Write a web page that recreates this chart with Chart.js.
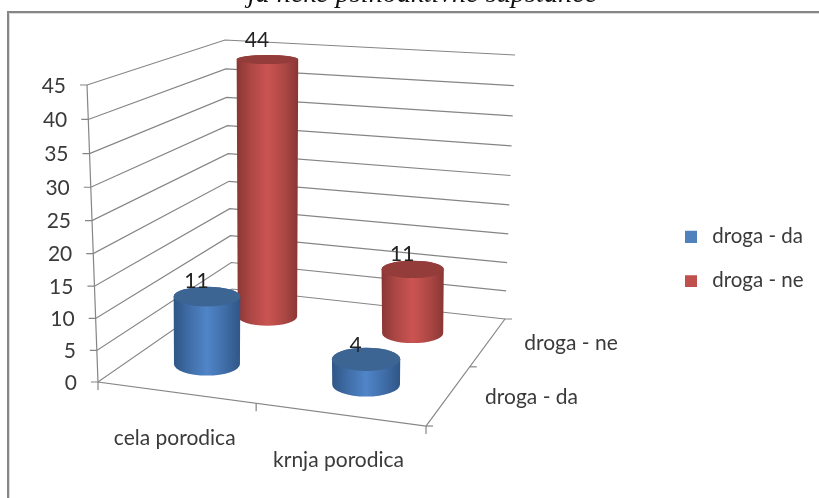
<!DOCTYPE html>
<html><head><meta charset="utf-8">
<style>html,body{margin:0;padding:0;background:#fff}canvas{display:block}</style>
<script src="https://cdn.jsdelivr.net/npm/chart.js@4"></script>
</head><body><canvas id="c" width="819" height="498"></canvas>
<script>
const categories = ['cela porodica', 'krnja porodica'];
const seriesNames = ['droga - da', 'droga - ne'];
const drogaDa = [11, 4];
const drogaNe = [44, 11];
const yTicks = [0, 5, 10, 15, 20, 25, 30, 35, 40, 45];
const titleText = 'ja neke psihoaktivne supstance';

const FONT = 'Lato, sans-serif';
const AXIS_FONT = '21px ' + FONT;
const TEXT = '#3a3a3a', GRID = '#858585';
const RADIUS = 0.1, PERSP = 0.05, BAR_SHIFT = -2.5, BAR_SPREAD = 1.02;
// 3D box outline (layout of the plot frame on the page)
const floorQuad = [[98,382],[426,426],[505,319],[232,289]];
const topQuad = [[87,85],[439,110],[515,55],[225,40]];

function homography(q){
  const [[x0,y0],[x1,y1],[x2,y2],[x3,y3]] = q;
  const dx1=x1-x2, dx2=x3-x2, sx=x0-x1+x2-x3, dy1=y1-y2, dy2=y3-y2, sy=y0-y1+y2-y3;
  const det=dx1*dy2-dx2*dy1, g=(sx*dy2-dx2*sy)/det, h=(dx1*sy-sx*dy1)/det;
  const a=x1-x0+g*x1, b=x3-x0+h*x3, d=y1-y0+g*y1, e=y3-y0+h*y3;
  return (u,w)=>{const n=g*u+h*w+1;return [(a*u+b*w+x0)/n,(d*u+e*w+y0)/n];};
}
const floorH = homography(floorQuad), topH = homography(topQuad);
// u: along categories, w: along series, v: fraction of the value axis
function project(u,w,v){
  const vv = v/(1+PERSP*(1-v));
  const f=floorH(u,w), t=topH(u,w);
  return [f[0]+(t[0]-f[0])*vv, f[1]+(t[1]-f[1])*vv];
}
function valueFrac(chart,val){
  const s=chart.scales.y;
  return (s.bottom-s.getPixelForValue(val))/(s.bottom-s.top);
}
function catU(chart,i){
  const s=chart.scales.x;
  return (s.getPixelForValue(i)-s.left)/(s.right-s.left);
}
function barU(chart,i){return 0.5+(catU(chart,i)-0.5)*BAR_SPREAD;}
function seriesW(i){return (i+0.5)/seriesNames.length;}
function ellipseAt(u,w,v){
  const c=project(u,w,v);
  let x0=1e9,x1=-1e9,y0=1e9,y1=-1e9;
  for(let a=0;a<48;a++){
    const p=project(u+RADIUS*Math.cos(a*Math.PI/24),w+RADIUS*Math.sin(a*Math.PI/24),v);
    x0=Math.min(x0,p[0]);x1=Math.max(x1,p[0]);y0=Math.min(y0,p[1]);y1=Math.max(y1,p[1]);
  }
  // cylinders stand upright: the axis stays over the base centre
  return {x:project(u,w,0)[0]+BAR_SHIFT,y:c[1],rx:(x1-x0)/2,ry:(y1-y0)/2};
}
const shades=[
  {edge:'#2f5685',mid:'#3f6ca6',light:'#5085c8',top:'#3d6594'},
  {edge:'#8a3634',mid:'#ab4744',light:'#cb5452',top:'#933c3a'}
];
class Cylinder3D extends Chart.BarController{
  draw(){
    const chart=this.chart, ctx=chart.ctx, di=this.index, col=shades[di], w=seriesW(di);
    const data=this.getDataset().data;
    data.forEach((val,i)=>{
      const u=barU(chart,i);
      const b=ellipseAt(u,w,0), t=ellipseAt(u,w,valueFrac(chart,this.getParsed(i).y));
      const left=Math.min(b.x-b.rx,t.x-t.rx), right=Math.max(b.x+b.rx,t.x+t.rx);
      const g=ctx.createLinearGradient(left,0,right,0);
      g.addColorStop(0,col.edge);g.addColorStop(0.22,col.mid);g.addColorStop(0.5,col.light);
      g.addColorStop(0.78,col.mid);g.addColorStop(1,col.edge);
      ctx.save();
      ctx.beginPath();
      ctx.ellipse(b.x,b.y,b.rx,b.ry,0,0,Math.PI,false);
      ctx.lineTo(t.x-t.rx,t.y);
      ctx.ellipse(t.x,t.y,t.rx,t.ry,0,Math.PI,2*Math.PI,false);
      ctx.closePath();
      ctx.fillStyle=g;ctx.fill();
      ctx.beginPath();
      ctx.ellipse(t.x,t.y,t.rx,t.ry,0,0,2*Math.PI);
      ctx.fillStyle=col.top;ctx.fill();
      ctx.restore();
    });
  }
}
Cylinder3D.id='cylinder3d';
Cylinder3D.defaults=Chart.BarController.defaults;
Cylinder3D.overrides=Chart.BarController.overrides;
Chart.register(Cylinder3D);

function legendSwatch(color){
  const c=document.createElement('canvas');c.width=18;c.height=13;
  const x=c.getContext('2d');x.fillStyle=color;x.fillRect(1,1,12,12);return c;
}
const swatches=[legendSwatch('#4f81bd'),legendSwatch('#c0504d')];

const frame3d={
  id:'frame3d',
  afterLayout(chart){
    const l=chart.legend; l.left=660; l.right=819; l.top+=25; l.bottom+=25;
  },
  beforeDatasetsDraw(chart){
    const ctx=chart.ctx;
    ctx.save();
    // page frame
    ctx.strokeStyle='#868686';ctx.lineWidth=2;
    ctx.beginPath();ctx.moveTo(8,498);ctx.lineTo(8,12);ctx.lineTo(819,12);ctx.stroke();
    ctx.strokeStyle='#dcdcdc';ctx.lineWidth=1;
    ctx.beginPath();ctx.moveTo(9.5,498);ctx.lineTo(9.5,13.5);ctx.lineTo(819,13.5);ctx.stroke();
    // title clipped by the page top
    ctx.fillStyle='#111';ctx.font='italic 28.3px "Liberation Serif", serif';
    ctx.textAlign='center';ctx.textBaseline='alphabetic';
    ctx.fillText(titleText,422.5,2);
    // grid
    ctx.strokeStyle=GRID;ctx.lineWidth=1.2;
    ctx.fillStyle=TEXT;ctx.font=AXIS_FONT;ctx.textAlign='right';ctx.textBaseline='middle';
    yTicks.forEach(t=>{
      const v=valueFrac(chart,t);
      const a=project(0,0,v), d=project(0,1,v), c=project(1,1,v);
      ctx.beginPath();ctx.moveTo(a[0]-7,a[1]);ctx.lineTo(a[0],a[1]);ctx.lineTo(d[0],d[1]);ctx.lineTo(c[0],c[1]);ctx.stroke();
      ctx.fillText(String(t),a[0]-21,a[1]+1);
    });
    // vertical axis, floor edges and ticks
    const A=project(0,0,0),T=project(0,0,1),B=project(1,0,0),C=project(1,1,0);
    ctx.beginPath();ctx.moveTo(T[0],T[1]);ctx.lineTo(A[0],A[1]);ctx.lineTo(B[0],B[1]);ctx.lineTo(C[0],C[1]);ctx.lineTo(C[0]+7,C[1]);ctx.stroke();
    for(let i=0;i<=categories.length;i++){
      const p=project(i/categories.length,0,0);
      ctx.beginPath();ctx.moveTo(p[0],p[1]);ctx.lineTo(p[0],p[1]+8);ctx.stroke();
    }
    const m=project(1,0.5,0);
    ctx.beginPath();ctx.moveTo(m[0],m[1]);ctx.lineTo(m[0]+7,m[1]);ctx.stroke();
    const bt=project(1,0,0);
    ctx.beginPath();ctx.moveTo(bt[0],bt[1]);ctx.lineTo(bt[0]+7,bt[1]);ctx.stroke();
    // axis labels
    ctx.fillStyle=TEXT;ctx.font=AXIS_FONT;ctx.textAlign='center';
    categories.forEach((c,i)=>{
      const p=project(catU(chart,i),0,0);
      ctx.fillText(c,p[0]-1,p[1]+46);
    });
    ctx.textAlign='left';
    seriesNames.forEach((s,i)=>{
      const p=project(1,seriesW(i),0);
      ctx.fillText(s,p[0]+36,p[1]+2);
    });
    ctx.restore();
  },
  afterDatasetsDraw(chart){
    const ctx=chart.ctx;
    ctx.save();
    ctx.fillStyle='#222';ctx.font=AXIS_FONT;ctx.textAlign='center';ctx.textBaseline='middle';
    chart.data.datasets.forEach((ds,di)=>{
      ds.data.forEach((val,i)=>{
        const t=ellipseAt(barU(chart,i),seriesW(di),valueFrac(chart,val));
        ctx.fillText(String(val),t.x-10.5,t.y-14-val*0.12);
      });
    });
    ctx.restore();
  }
};

new Chart(document.getElementById('c'),{
  type:'cylinder3d',
  data:{labels:categories,datasets:[
    {label:seriesNames[0],data:drogaDa,backgroundColor:'#4f81bd',clip:false},
    {label:seriesNames[1],data:drogaNe,backgroundColor:'#c0504d',clip:false}
  ]},
  plugins:[frame3d],
  options:{
    responsive:false,animation:false,
    layout:{padding:{left:87,right:0,top:85,bottom:116}},
    scales:{
      x:{display:false,offset:true},
      y:{display:false,min:yTicks[0],max:yTicks[yTicks.length-1],
         afterBuildTicks(a){a.ticks=yTicks.map(v=>({value:v}));}}
    },
    plugins:{
      title:{display:false},tooltip:{enabled:false},
      legend:{display:true,position:'right',align:'center',
        labels:{usePointStyle:true,pointStyleWidth:18,boxHeight:13,padding:24,color:TEXT,font:{family:FONT,size:20.5},
          generateLabels(chart){
            const items=Chart.defaults.plugins.legend.labels.generateLabels(chart);
            items.forEach(it=>{it.pointStyle=swatches[it.datasetIndex];});
            return items;
          }}}
    }
  }
});
</script></body></html>
